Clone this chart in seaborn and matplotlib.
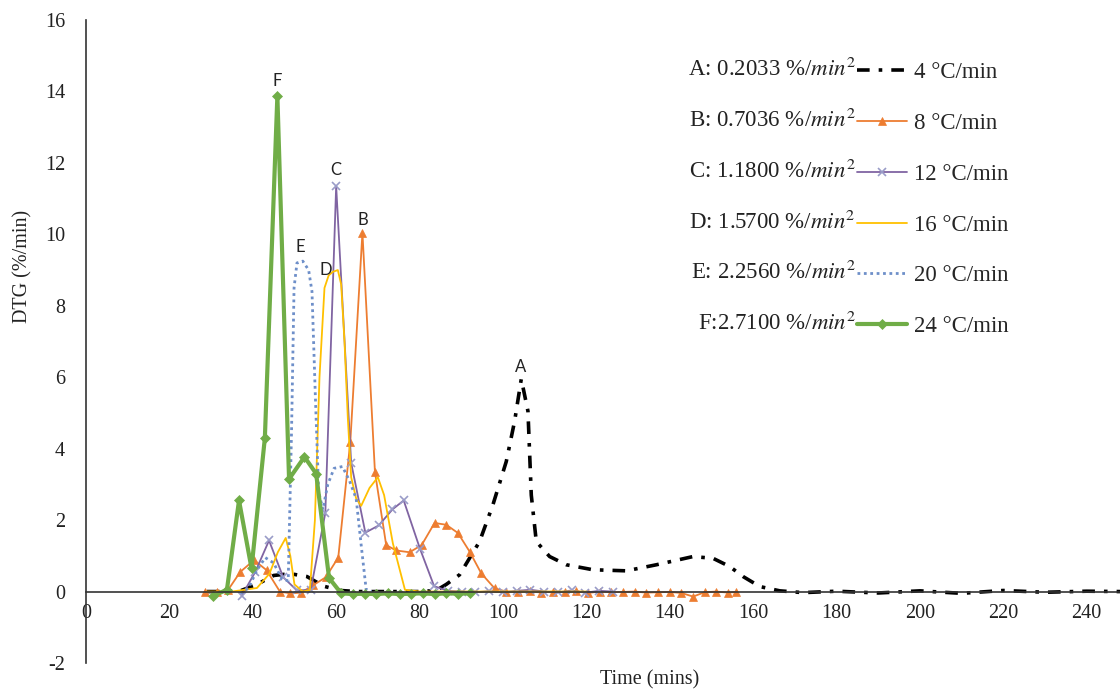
# DTG curves at six heating rates, redrawn from the reference figure
import matplotlib
matplotlib.use("Agg")
import matplotlib.pyplot as plt
import seaborn as sns

# ---- data (time in min, DTG in %/min) ----
a_time = [29, 33, 37, 41, 45, 49, 53, 57, 61, 65, 70, 75, 80, 84, 86.4, 89.6, 94.4, 97.6,
          100.8, 102.8, 104.4, 106.0, 106.8, 108.0, 111.2, 115.2, 121.6, 129.6, 136.8,
          145.6, 150.4, 154.4, 157.6, 161.6, 166.4, 172, 180, 190, 200, 210, 220, 230, 240, 248]
a_dtg = [0, 0, 0.02, 0.2, 0.45, 0.5, 0.42, 0.15, 0.03, 0, 0, 0, 0, 0.03, 0.2, 0.47, 1.4, 2.43,
         3.64, 4.77, 5.95, 5.05, 2.7, 1.4, 0.98, 0.75, 0.61, 0.58, 0.75,
         0.98, 0.93, 0.70, 0.42, 0.14, 0.02, -0.03, 0.01, -0.04, 0.02, -0.05, 0.03, -0.02, 0.01, 0]

b_time = [28.5, 31.3, 34.1, 37.0, 40.3, 43.3, 46.5, 49.0, 51.6, 54.4, 57.5, 60.5, 63.4, 66.3,
          69.3, 72.0, 74.4, 77.6, 80.5, 83.6, 86.4, 89.2, 92.0, 94.8, 98.0, 100.8, 103.6,
          106.4, 109.2, 112.0, 114.8, 117.6, 120.4, 123.2, 126.0, 128.8, 131.6, 134.4, 137.2,
          140.0, 142.8, 145.6, 148.4, 151.2, 154.0, 156.0]
b_dtg = [0.0, -0.02, 0.05, 0.55, 0.88, 0.6, 0.0, -0.05, -0.03, 0.17, 0.4, 0.95, 4.2, 10.05,
         3.35, 1.3, 1.15, 1.1, 1.3, 1.92, 1.87, 1.64, 1.12, 0.51, 0.09, 0.0, -0.02,
         0.01, -0.03, 0.0, -0.02, 0.01, -0.04, 0.0, -0.02, -0.01, 0.0, -0.03, -0.02,
         -0.01, -0.04, -0.14, -0.02, 0.0, -0.03, -0.01]

c_time = [37.3, 40.6, 43.9, 47.3, 50.6, 53.9, 57.4, 60.0, 63.6, 67.0, 70.2, 73.5, 76.2, 80.1,
          83.5, 86.8, 90.1, 93.4, 96.7, 100.0, 103.3, 106.6, 109.9, 113.2, 116.5, 119.8,
          123.1, 126.4]
c_dtg = [-0.13, 0.55, 1.43, 0.4, 0.03, 0.05, 2.2, 11.35, 3.6, 1.65, 1.85, 2.3, 2.55, 1.2,
         0.15, 0.02, 0.0, -0.02, 0.01, -0.02, 0.02, 0.05, 0.0, -0.02, 0.03, -0.03, 0.02, 0.0]

d_time = [29, 35, 38, 41, 44, 46, 47.9, 49, 50, 52, 53.7, 54.9, 56, 57.2, 58.2, 59.2, 60.4,
          61.2, 62.0, 62.8, 63.6, 64.8, 66, 68, 70, 71.5, 73.6, 76.5, 80, 90, 100, 110, 120]
d_dtg = [0, 0, 0.05, 0.1, 0.5, 1.1, 1.5, 1.0, 0.2, 0.0, 0.05, 2.0, 6.0, 8.5, 8.85, 8.95, 9.0,
         8.6, 7.0, 4.85, 3.2, 2.6, 2.4, 2.9, 3.2, 2.7, 1.35, 0.05, 0, 0, 0, 0, 0]

e_time = [37, 39, 41, 43, 45, 47, 48.5, 49.3, 49.9, 50.6, 52.0, 53.4, 54.2, 55.0, 55.8, 56.8,
          58.0, 59.5, 61.5, 63.2, 64.8, 66.0, 67.2, 68.5]
e_dtg = [-0.05, 0.1, 0.6, 0.95, 0.8, 0.35, 0.3, 4.5, 8.5, 9.2, 9.25, 9.0, 8.4, 5.5, 2.8, 2.3,
         3.0, 3.45, 3.5, 3.1, 2.6, 1.3, 0.05, 0.0]

f_time = [30.5, 33.8, 36.7, 39.7, 42.9, 45.9, 48.7, 52.4, 55.2, 58.3, 61.2, 64.0, 66.8, 69.6,
          72.4, 75.2, 78.0, 80.8, 83.6, 86.4, 89.2, 92.0]
f_dtg = [-0.12, 0.05, 2.55, 0.65, 4.3, 13.88, 3.15, 3.77, 3.3, 0.38, -0.05, -0.07, -0.06,
         -0.07, -0.05, -0.07, -0.06, -0.05, -0.07, -0.05, -0.06, -0.05]

rate_labels = ["4 °C/min", "8 °C/min", "12 °C/min", "16 °C/min", "20 °C/min", "24 °C/min"]
slope_labels = ["A: 0.2033 %/$min^2$", "B: 0.7036 %/$min^2$", "C: 1.1800 %/$min^2$",
                "D: 1.5700 %/$min^2$", "E: 2.2560 %/$min^2$", "F:2.7100 %/$min^2$"]
peak_letters = ["A", "B", "C", "D", "E", "F"]
peak_pos = [(104.2, 6.3), (66.3, 10.4), (60.0, 11.8), (57.6, 9.0), (51.5, 9.65), (45.9, 14.3)]


def main() -> None:
    sns.set_theme(style="white")
    plt.rcParams["font.family"] = ["Liberation Serif", "DejaVu Serif"]
    plt.rcParams["mathtext.fontset"] = "stix"
    plt.rcParams["axes.unicode_minus"] = False

    fig = plt.figure(figsize=(11.2, 6.98), dpi=100)
    ax = fig.add_axes([86 / 1120, 1 - 663 / 698, 1034 / 1120, 643 / 698])

    styles = [
        dict(x=a_time, y=a_dtg, color="black", linewidth=2.6,
             linestyle=(0, (3.5, 2.5, 1, 2.5))),
        dict(x=b_time, y=b_dtg, color="#ED7D31", linewidth=1.3, marker="^",
             markersize=5.5, markeredgecolor="#ED7D31", markeredgewidth=0.5),
        dict(x=c_time, y=c_dtg, color="#8064A2", linewidth=1.3, marker="x",
             markersize=6, markeredgecolor="#9A9CC8", markeredgewidth=1.2),
        dict(x=d_time, y=d_dtg, color="#FFC000", linewidth=1.3),
        dict(x=e_time, y=e_dtg, color="#6E8FC9", linewidth=2.0,
             linestyle=(0, (1, 1.3))),
        dict(x=f_time, y=f_dtg, color="#70AD47", linewidth=3.0, marker="D",
             markersize=5.5, markeredgecolor="#70AD47", markeredgewidth=0.5),
    ]
    handles = []
    for st in styles:
        sns.lineplot(ax=ax, estimator=None, sort=False, **st)
        handles.append(ax.lines[-1])

    for letter, (px, py) in zip(peak_letters, peak_pos):
        ax.text(px, py, letter, ha="center", va="center", fontsize=12,
                family=["Lato", "DejaVu Sans"], color="#222222")

    ax.set_xlim(0, 248)
    ax.set_ylim(-2, 16)
    ax.set_xticks(range(0, 241, 20))
    ax.set_yticks(range(-2, 17, 2))
    ax.spines["top"].set_visible(False)
    ax.spines["right"].set_visible(False)
    ax.spines["bottom"].set_position(("data", 0))
    for s in ("left", "bottom"):
        ax.spines[s].set_color("#333333")
        ax.spines[s].set_linewidth(1.2)
    ax.tick_params(axis="both", length=0, labelsize=14.5, colors="#222222")
    ax.tick_params(axis="x", pad=9)
    ax.tick_params(axis="y", pad=15)

    ax.set_xlabel("Time (mins)", fontsize=14.5, color="#222222")
    ax.set_ylabel("DTG (%/min)", fontsize=14.5, color="#222222")
    ax.xaxis.set_label_coords(0.545, -0.011)
    ax.yaxis.set_label_coords(-0.052, 0.616)

    leg = fig.legend(handles, rate_labels, loc="upper left",
                     bbox_to_anchor=(857 / 1120, 1 - 62 / 698), frameon=False,
                     fontsize=16.5, handlelength=2.2, handletextpad=0.3,
                     labelspacing=1.3, borderpad=0, borderaxespad=0)

    # slope text sits to the left of each legend handle
    fig.canvas.draw()
    x0 = leg.get_window_extent().x0
    inv = fig.transFigure.inverted()
    for txt, lab in zip(leg.get_texts(), slope_labels):
        bb = txt.get_window_extent()
        fx, fy = inv.transform((x0 - 1, (bb.y0 + bb.y1) / 2 + 3))
        fig.text(fx, fy, lab, ha="right", va="center", fontsize=16.5, color="#222222")

    fig.savefig("out.png", dpi=100)


if __name__ == "__main__":
    main()
